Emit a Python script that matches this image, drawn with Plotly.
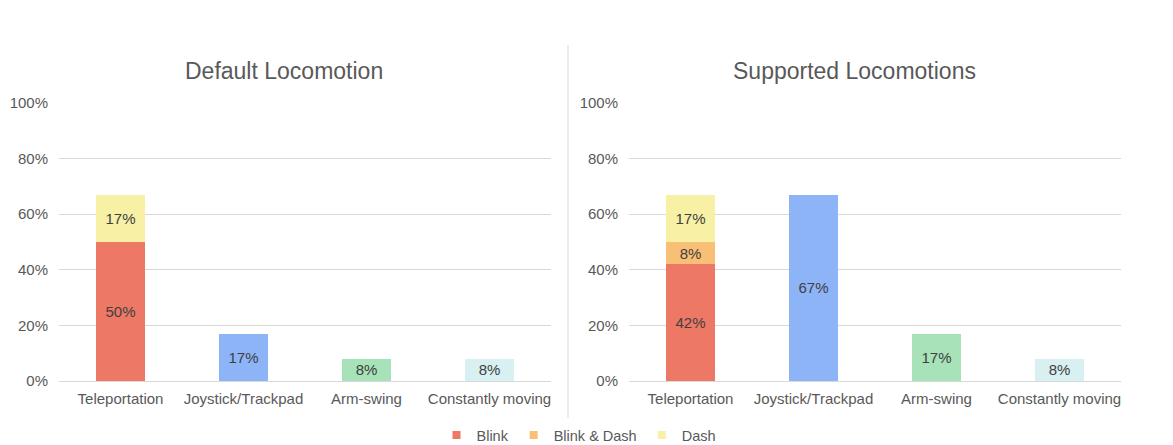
import plotly.graph_objects as go

# Categories shared by both panels
categories = ["Teleportation", "Joystick/Trackpad", "Arm-swing", "Constantly moving"]

# Default locomotion (percent of apps)
default_blink = [50, None, None, None]
default_dash = [17, None, None, None]
default_other = [None, 17, 8, 8]

# Supported locomotions (percent of apps)
supported_blink = [42, None, None, None]
supported_blink_dash = [8, None, None, None]
supported_dash = [17, None, None, None]
supported_other = [None, 67, 17, 8]

# Styling
COL_BLINK = "#EE7866"
COL_BLINK_DASH = "#F8BF77"
COL_DASH = "#F7F0A5"
COL_OTHER = ["#FFFFFF", "#8EB4F8", "#A7E2B8", "#D8F0F2"]
TEXT = "#595959"
LABEL = "#404040"
GRID = "#D9D9D9"
FONT = "Liberation Sans, Arial, sans-serif"

W, H = 1173, 445


def px_x(v):
    return v / W


def px_y(v):
    return (H - v) / H


def labels(vals):
    return [f"{v}%" if v is not None else "" for v in vals]


fig = go.Figure()


def add_bar(vals, color, xaxis, yaxis):
    fig.add_trace(go.Bar(
        x=categories, y=vals, marker=dict(color=color, line=dict(width=0)),
        text=labels(vals), textposition="inside", insidetextanchor="middle",
        textfont=dict(size=15, color=LABEL, family=FONT),
        showlegend=False, xaxis=xaxis, yaxis=yaxis, hoverinfo="skip",
    ))


# Left panel
add_bar(default_blink, COL_BLINK, "x", "y")
add_bar(default_dash, COL_DASH, "x", "y")
add_bar(default_other, COL_OTHER, "x", "y")

# Right panel
add_bar(supported_blink, COL_BLINK, "x2", "y2")
add_bar(supported_blink_dash, COL_BLINK_DASH, "x2", "y2")
add_bar(supported_dash, COL_DASH, "x2", "y2")
add_bar(supported_other, COL_OTHER, "x2", "y2")

# Legend entries
for name, col in [("Blink", COL_BLINK), ("Blink & Dash", COL_BLINK_DASH), ("Dash", COL_DASH)]:
    fig.add_trace(go.Scatter(
        x=[None], y=[None], mode="markers", name=name,
        marker=dict(symbol="square", size=8, color=col),
        xaxis="x", yaxis="y",
    ))

y_dom = [px_y(381), px_y(103)]
common_y = dict(
    range=[0, 100], dtick=20, ticksuffix="%", showgrid=True, gridcolor=GRID,
    gridwidth=1, zeroline=True, zerolinecolor=GRID, zerolinewidth=1,
    showline=False, tickfont=dict(size=15, color=TEXT, family=FONT),
    ticklabelstandoff=10, fixedrange=True, automargin=False,
)
common_x = dict(
    showgrid=False, showline=False, zeroline=False,
    tickfont=dict(size=15, color=TEXT, family=FONT),
    ticklabelstandoff=7, fixedrange=True, automargin=False,
)

fig.update_layout(
    width=W, height=H,
    margin=dict(l=0, r=0, t=0, b=0, autoexpand=False),
    paper_bgcolor="white", plot_bgcolor="white",
    barmode="stack", bargap=0.6,
    font=dict(family=FONT, color=TEXT),
    xaxis=dict(domain=[px_x(59), px_x(551)], anchor="y", **common_x),
    yaxis=dict(domain=y_dom, anchor="x", **common_y),
    xaxis2=dict(domain=[px_x(629), px_x(1121)], anchor="y2", **common_x),
    yaxis2=dict(domain=y_dom, anchor="x2", **common_y),
    legend=dict(
        orientation="h", x=px_x(579), xanchor="center", y=px_y(435), yanchor="middle",
        font=dict(size=14.5, color=TEXT, family=FONT), itemwidth=30,
        bgcolor="rgba(0,0,0,0)", traceorder="normal",
    ),
    annotations=[
        dict(text="Default Locomotion", x=px_x(284), y=px_y(71), xref="paper", yref="paper",
             showarrow=False, xanchor="center", yanchor="middle",
             font=dict(size=23, color=TEXT, family=FONT)),
        dict(text="Supported Locomotions", x=px_x(854), y=px_y(71), xref="paper", yref="paper",
             showarrow=False, xanchor="center", yanchor="middle",
             font=dict(size=23, color=TEXT, family=FONT)),
    ],
    shapes=[
        dict(type="line", xref="paper", yref="paper",
             x0=px_x(568), x1=px_x(568), y0=px_y(45), y1=px_y(418),
             line=dict(color=GRID, width=1)),
    ],
    uniformtext=dict(minsize=15, mode="show"),
)

fig.write_html("out.html")
